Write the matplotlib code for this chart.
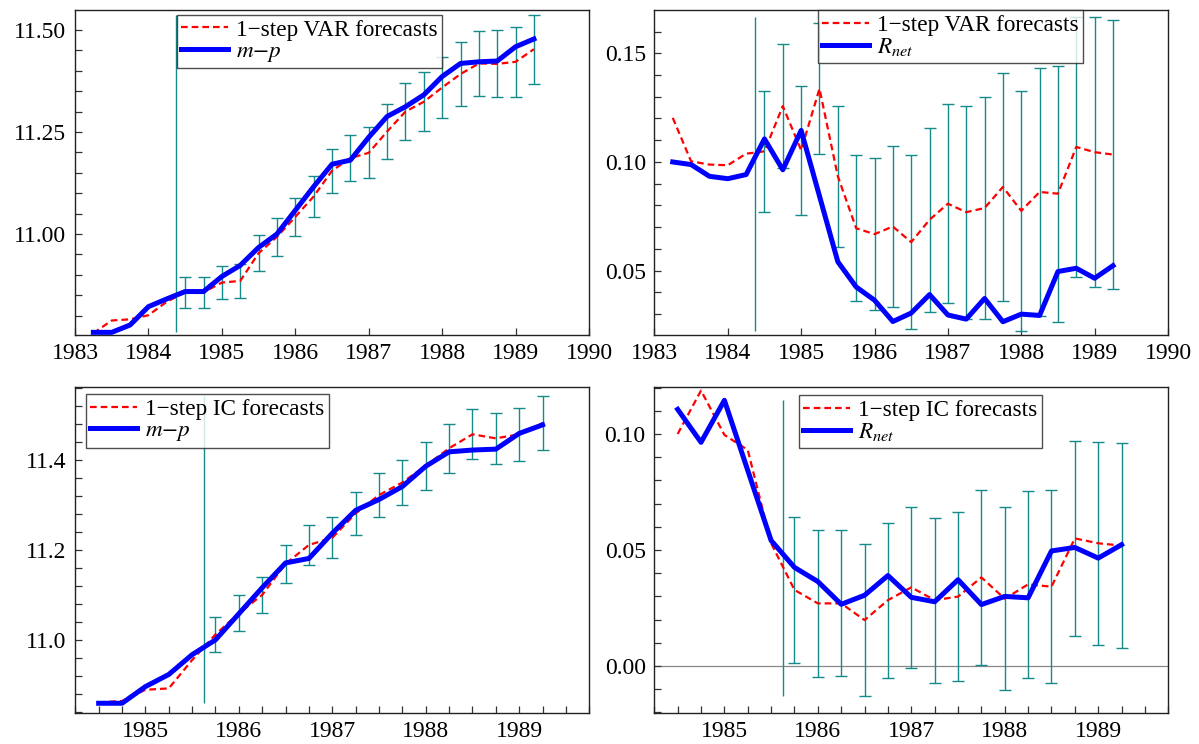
import numpy as np
import matplotlib
matplotlib.use('Agg')
from matplotlib import pyplot as plt
from matplotlib.ticker import MultipleLocator, FormatStrFormatter

plt.rcParams['font.family'] = ['Liberation Serif', 'DejaVu Serif']
plt.rcParams['mathtext.fontset'] = 'stix'

# quarterly dates 1983(2) .. 1989(2)
dates = [1983.25, 1983.5, 1983.75, 1984.0, 1984.25, 1984.5, 1984.75,
         1985.0, 1985.25, 1985.5, 1985.75, 1986.0, 1986.25, 1986.5,
         1986.75, 1987.0, 1987.25, 1987.5, 1987.75, 1988.0, 1988.25,
         1988.5, 1988.75, 1989.0, 1989.25]

# actual series
mp = [10.759, 10.759, 10.777, 10.822, 10.841, 10.859, 10.859, 10.896,
      10.923, 10.967, 11.000, 11.058, 11.116, 11.171, 11.181, 11.237,
      11.288, 11.312, 11.341, 11.386, 11.418, 11.422, 11.424, 11.459, 11.478]
rnet = [0.1000, 0.0988, 0.0934, 0.0923, 0.0942, 0.1106, 0.0964, 0.1145,
        0.0843, 0.0541, 0.0425, 0.0364, 0.0266, 0.0305, 0.0390, 0.0296,
        0.0277, 0.0372, 0.0265, 0.0300, 0.0294, 0.0496, 0.0511, 0.0465, 0.0523]

# 1-step VAR forecasts (whole sample), error bars from 1984(3)
var_mp = [10.757, 10.788, 10.791, 10.801, 10.834, 10.857, 10.857, 10.881,
          10.885, 10.953, 10.993, 11.042, 11.092, 11.155, 11.186, 11.199,
          11.251, 11.300, 11.324, 11.359, 11.392, 11.418, 11.417, 11.422, 11.453]
var_mp_err = [0.0376, 0.0384, 0.0404, 0.0409, 0.0445, 0.0462, 0.0474, 0.0511,
              0.0543, 0.0572, 0.0625, 0.0674, 0.0699, 0.0719, 0.0756, 0.0776,
              0.0801, 0.0821, 0.0850, 0.0846]
var_r = [0.1203, 0.1003, 0.0988, 0.0985, 0.1038, 0.1049, 0.1257, 0.1054,
         0.1337, 0.0934, 0.0695, 0.0668, 0.0703, 0.0631, 0.0734, 0.0808,
         0.0769, 0.0788, 0.0885, 0.0775, 0.0862, 0.0854, 0.1069, 0.1045, 0.1034]
var_r_err = [0.0278, 0.0287, 0.0297, 0.0301, 0.0325, 0.0336, 0.0348, 0.0369,
             0.0401, 0.0422, 0.0457, 0.0490, 0.0511, 0.0524, 0.0551, 0.0569,
             0.0589, 0.0600, 0.0621, 0.0620]
var_start = 5       # first forecast obs: 1984.5
var_break = 1984.375

# 1-step IC forecasts from 1984(3), error bars from 1985(4)
ic_mp = [10.861, 10.864, 10.889, 10.892, 10.955, 11.012, 11.059, 11.100,
         11.169, 11.211, 11.227, 11.281, 11.322, 11.350, 11.387, 11.426,
         11.457, 11.448, 11.457, 11.482]
ic_mp_err = [0.0396, 0.0396, 0.0400, 0.0426, 0.0441, 0.0456, 0.0474, 0.0485,
             0.0508, 0.0534, 0.0548, 0.0559, 0.0574, 0.0589, 0.0596]
ic_r = [0.1000, 0.1187, 0.0996, 0.0931, 0.0529, 0.0328, 0.0270, 0.0270,
        0.0198, 0.0284, 0.0339, 0.0284, 0.0299, 0.0382, 0.0290, 0.0352,
        0.0342, 0.0550, 0.0529, 0.0519]
ic_r_err = [0.0315, 0.0317, 0.0315, 0.0328, 0.0334, 0.0348, 0.0355, 0.0365,
            0.0377, 0.0395, 0.0404, 0.0416, 0.0421, 0.0438, 0.0441]
ic_first = 5        # IC sample starts at 1984.5
ic_start = 5        # bars start 1985.75 (index within IC sample)
ic_break = 1985.625

teal = '#148a8a'
fs = 17
lfs = 16.7

fig = plt.figure(figsize=(11.99, 7.44), dpi=100)
W, H = 1199.0, 744.0


def make_ax(l, t, r, b):
    return fig.add_axes([l / W, 1 - b / H, (r - l) / W, (b - t) / H])


def panel(ax, x, actual, fc, err, estart, brk, fc_label, act_label):
    x = np.array(x)
    actual = np.array(actual)
    fc = np.array(fc)
    err = np.array(err)
    xe = x[estart:]
    fe = fc[estart:]
    lo = min(actual.min(), (fe - err).min())
    hi = max(actual.max(), (fe + err).max())
    ax.vlines(brk, lo, hi, color=teal, lw=1.0, zorder=2)
    ax.errorbar(xe, fe, yerr=err, fmt='none', ecolor=teal, elinewidth=1.0,
                capsize=4.3, capthick=1.0, zorder=2)
    ax.plot(x, fc, color='#ff0000', lw=1.6, ls=(0, (3, 1.8)), label=fc_label, zorder=3)
    ax.plot(x, actual, color='#0000ff', lw=3.6, label=act_label, zorder=4)
    ax.tick_params(axis='both', which='both', direction='in', top=False,
                   right=False, labelsize=fs, length=5, width=0.9, color='#333333')
    ax.tick_params(axis='y', pad=6.2)
    ax.tick_params(axis='x', pad=6)
    for s in ax.spines.values():
        s.set_linewidth(1.0)
        s.set_color('#222222')


def legend(ax, px, py):
    lg = ax.legend(loc='upper left', bbox_to_anchor=(px / W, 1 - py / H),
                   bbox_transform=fig.transFigure, fontsize=lfs, frameon=True,
                   fancybox=False, borderaxespad=0, borderpad=0.2,
                   labelspacing=0.0, handlelength=2.0, handletextpad=0.35)
    lg.get_frame().set_edgecolor('#222222')
    lg.get_frame().set_linewidth(1.0)


mp_lab = '$m{-}p$'
r_lab = '$R_{net}$'

# top-left
ax1 = make_ax(75, 10, 589, 335)
panel(ax1, dates, mp, var_mp, var_mp_err, var_start, var_break,
      '1\u2212step VAR forecasts', mp_lab)
ax1.set_xlim(1983, 1990)
ax1.set_ylim(10.7525, 11.549)
ax1.xaxis.set_major_locator(MultipleLocator(1))
ax1.yaxis.set_major_locator(MultipleLocator(0.25))
ax1.yaxis.set_minor_locator(MultipleLocator(0.05))
ax1.yaxis.set_major_formatter(FormatStrFormatter('%.2f'))
legend(ax1, 176.7, 14.7)

# top-right
ax2 = make_ax(654.4, 10, 1168, 335)
panel(ax2, dates, rnet, var_r, var_r_err, var_start, var_break,
      '1\u2212step VAR forecasts', r_lab)
ax2.set_xlim(1983, 1990)
ax2.set_ylim(0.0204, 0.1699)
ax2.xaxis.set_major_locator(MultipleLocator(1))
ax2.yaxis.set_major_locator(MultipleLocator(0.05))
ax2.yaxis.set_minor_locator(MultipleLocator(0.01))
ax2.yaxis.set_major_formatter(FormatStrFormatter('%.2f'))
legend(ax2, 817.7, 10)

# bottom-left
ax3 = make_ax(75.3, 387.3, 589.3, 712.7)
panel(ax3, dates[ic_first:], mp[ic_first:], ic_mp, ic_mp_err, ic_start, ic_break,
      '1\u2212step IC forecasts', mp_lab)
ax3.set_xlim(1984.25, 1989.75)
ax3.set_ylim(10.838, 11.5615)
ax3.xaxis.set_major_locator(MultipleLocator(1))
ax3.xaxis.set_minor_locator(MultipleLocator(0.25))
ax3.yaxis.set_major_locator(MultipleLocator(0.2))
ax3.yaxis.set_minor_locator(MultipleLocator(0.04))
ax3.yaxis.set_major_formatter(FormatStrFormatter('%.1f'))
legend(ax3, 85.7, 394)

# bottom-right
ax4 = make_ax(654.3, 387.3, 1168.3, 712.7)
ax4.axhline(0, color='#888888', lw=0.9, zorder=1)
panel(ax4, dates[ic_first:], rnet[ic_first:], ic_r, ic_r_err, ic_start, ic_break,
      '1\u2212step IC forecasts', r_lab)
ax4.set_xlim(1984.25, 1989.75)
ax4.set_ylim(-0.0201, 0.1201)
ax4.xaxis.set_major_locator(MultipleLocator(1))
ax4.xaxis.set_minor_locator(MultipleLocator(0.25))
ax4.yaxis.set_major_locator(MultipleLocator(0.05))
ax4.yaxis.set_minor_locator(MultipleLocator(0.01))
ax4.yaxis.set_major_formatter(FormatStrFormatter('%.2f'))
legend(ax4, 798.7, 395)

for ax in (ax1, ax2, ax3, ax4):
    ax.xaxis.set_major_formatter(FormatStrFormatter('%d'))

fig.savefig('out.png', dpi=100)
